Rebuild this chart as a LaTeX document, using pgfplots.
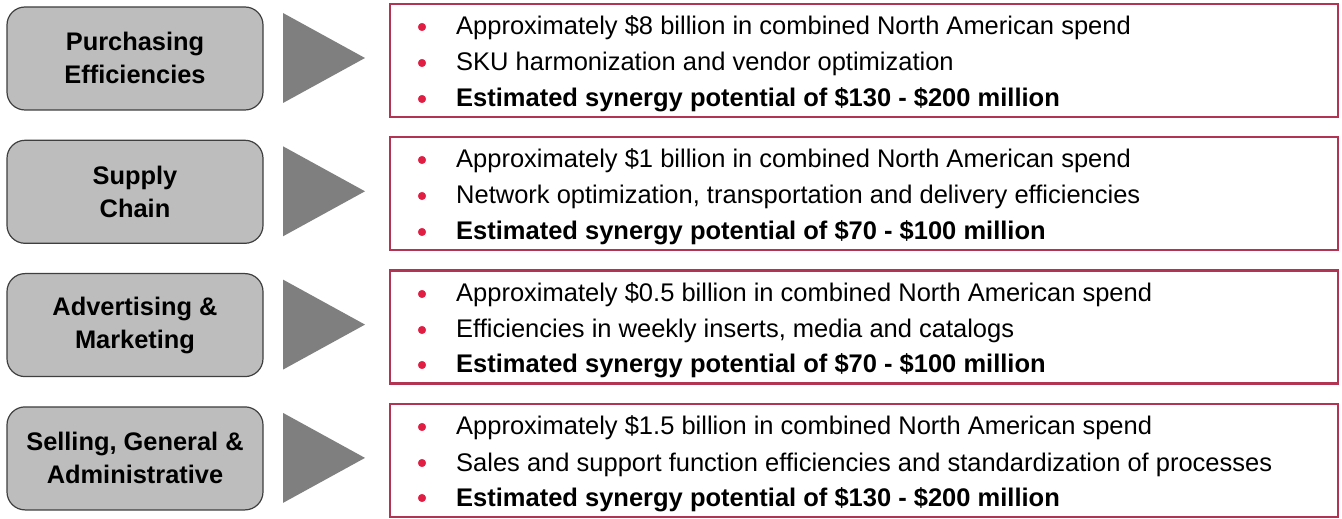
\documentclass[border=0pt]{standalone}
\usepackage{fontspec}
\setmainfont{Liberation Sans}
\usepackage{pgfplots}
\pgfplotsset{compat=1.18}
\definecolor{boxgrey}{HTML}{BDBDBD}
\definecolor{boxedge}{HTML}{3F3F3F}
\definecolor{arrowgrey}{HTML}{7F7F7F}
\definecolor{frame}{HTML}{B23452}
\definecolor{dot}{HTML}{E01E44}

\begin{document}
\begin{tikzpicture}
\begin{axis}[
  width=1342pt, height=518pt, scale only axis,
  xmin=0, xmax=1342, ymin=0, ymax=518, y dir=reverse,
  hide axis, clip=false,
]
  \path (axis cs:0,0) (axis cs:1342,518);
  % row shapes: grey label box, arrow, red frame
  \pgfplotsinvokeforeach{0,1,2,3}{
    \draw[fill=boxgrey, draw=boxedge, line width=1.2pt, rounded corners=18pt]
      (axis cs:7,{7+133.3*#1}) rectangle (axis cs:263,{110+133.3*#1});
    \fill[arrowgrey] (axis cs:283,{13+133.3*#1}) -- (axis cs:365,{58+133.3*#1})
      -- (axis cs:283,{103+133.3*#1}) -- cycle;
    \draw[frame, line width=2.4pt]
      (axis cs:390,{4+133.3*#1}) rectangle (axis cs:1338,{117+133.3*#1});
  }
  \addplot[only marks, mark=*, mark size=3.8pt, color=dot] coordinates {
    (422,27) (422,63) (422,99)
    (422,160) (422,196) (422,232)
    (422,294) (422,330) (422,365)
    (422,427) (422,463) (422,498)};

  \begin{scope}[font=\fontsize{25.4}{33}\selectfont\bfseries, align=center]
    \node at (axis cs:135,58) {Purchasing\\Efficiencies};
    \node at (axis cs:135,192) {Supply\\Chain};
    \node at (axis cs:135,325) {Advertising \&\\Marketing};
    \node at (axis cs:135,458) {Selling, General \&\\Administrative};
  \end{scope}

  \begin{scope}[font=\fontsize{25.5}{30}\selectfont, anchor=base west, inner sep=0pt]
    \node at (axis cs:456,35) {Approximately \$8 billion in combined North American spend};
    \node at (axis cs:456,71) {SKU harmonization and vendor optimization};
    \node[font=\fontsize{25.5}{30}\selectfont\bfseries] at (axis cs:456,107) {Estimated synergy potential of \$130 - \$200 million};
    \node at (axis cs:456,168) {Approximately \$1 billion in combined North American spend};
    \node at (axis cs:456,204) {Network optimization, transportation and delivery efficiencies};
    \node[font=\fontsize{25.5}{30}\selectfont\bfseries] at (axis cs:456,240) {Estimated synergy potential of \$70 - \$100 million};
    \node at (axis cs:456,302) {Approximately \$0.5 billion in combined North American spend};
    \node at (axis cs:456,338) {Efficiencies in weekly inserts, media and catalogs};
    \node[font=\fontsize{25.5}{30}\selectfont\bfseries] at (axis cs:456,373) {Estimated synergy potential of \$70 - \$100 million};
    \node at (axis cs:456,435) {Approximately \$1.5 billion in combined North American spend};
    \node at (axis cs:456,471) {Sales and support function efficiencies and standardization of processes};
    \node[font=\fontsize{25.5}{30}\selectfont\bfseries] at (axis cs:456,506) {Estimated synergy potential of \$130 - \$200 million};
  \end{scope}
\end{axis}
\end{tikzpicture}
\end{document}
